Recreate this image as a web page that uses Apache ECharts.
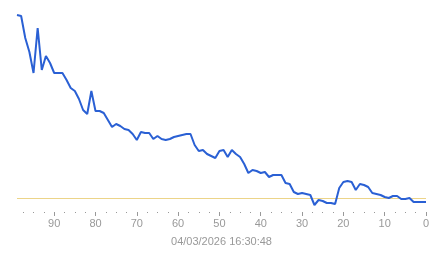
<!DOCTYPE html>
<html>
<head>
<meta charset="utf-8">
<script src="https://cdn.jsdelivr.net/npm/echarts@6/dist/echarts.min.js"></script>
<style>
html,body{margin:0;padding:0;background:#fff;}
#chart{width:443px;height:258px;}
</style>
</head>
<body>
<div id="chart"></div>
<script>
var xValues = [99,98,97,96,95,94,93,92,91,90,89,88,87,86,85,84,83,82,81,80,79,78,77,76,75,74,73,72,71,70,69,68,67,66,65,64,63,62,61,60,59,58,57,56,55,54,53,52,51,50,49,48,47,46,45,44,43,42,41,40,39,38,37,36,35,34,33,32,31,30,29,28,27,26,25,24,23,22,21,20,19,18,17,16,15,14,13,12,11,10,9,8,7,6,5,4,3,2,1,0];
var yValues = [197,196,174,160,139,184,142,156,149,139,139,139,132,124,121,113,102,98,121,101,101,99,92,85,88,86,83,82,78,72,80,79,79,73,76,73,72,73,75,76,77,78,78,67,61,62,58,56,54,61,62,55,62,58,55,48,39,42,41,39,40,35,37,37,37,29,28,20,18,19,18,17,7,12,11,9,9,8,24,30,31,30,22,28,27,25,19,18,17,15,14,16,16,13,13,14,10,10,10,10];
var thresholdValue = 14;
var tickValues = [0,10,20,30,40,50,60,70,80,90];
var axisTitle = '04/03/2026 16:30:48';

var seriesData = xValues.map(function (x, i) { return [x, yValues[i]]; });

var chart = echarts.init(document.getElementById('chart'), null, {renderer: 'canvas'});
chart.setOption({
  animation: false,
  grid: {left: 17, right: 17, top: 12, bottom: 46, containLabel: false},
  xAxis: {
    type: 'value',
    inverse: true,
    min: 0,
    max: 99,
    interval: 10,
    name: axisTitle,
    nameLocation: 'middle',
    nameGap: 24,
    nameTextStyle: {color: '#999', fontSize: 11, fontFamily: 'Liberation Sans, Arial, sans-serif'},
    axisLine: {show: false},
    splitLine: {show: false},
    axisTick: {show: true, length: 4, customValues: tickValues, lineStyle: {color: '#999', width: 1}},
    minorTick: {show: true, splitNumber: 4, length: 1, lineStyle: {color: '#999', width: 1}},
    axisLabel: {customValues: tickValues, color: '#999', fontSize: 11, margin: 6, fontFamily: 'Liberation Sans, Arial, sans-serif'}
  },
  yAxis: {
    type: 'value',
    min: 0,
    max: 200,
    show: false,
    splitLine: {show: false}
  },
  series: [{
    type: 'line',
    data: [],
    z: 1,
    markLine: {
      silent: true,
      symbol: 'none',
      label: {show: false},
      lineStyle: {color: '#ecd488', width: 1, type: 'solid'},
      data: [{yAxis: thresholdValue}]
    }
  }, {
    type: 'line',
    data: seriesData,
    showSymbol: false,
    symbol: 'none',
    lineStyle: {color: '#2a60d4', width: 2},
    itemStyle: {color: '#2a60d4'},
    z: 5
  }]
});
</script>
</body>
</html>
